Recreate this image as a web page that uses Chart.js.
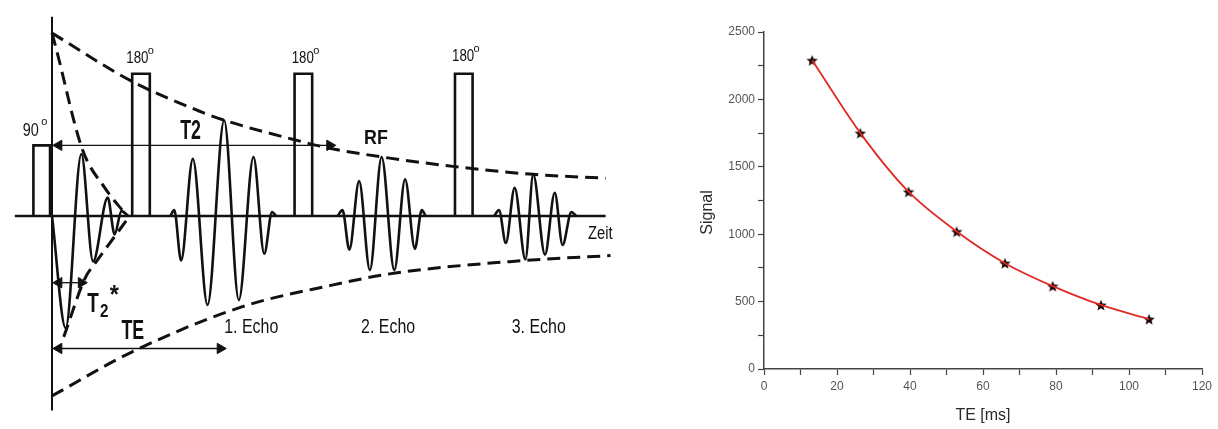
<!DOCTYPE html>
<html>
<head>
<meta charset="utf-8">
<script src="https://cdn.jsdelivr.net/npm/chart.js@4.4.1/dist/chart.umd.min.js"></script>
<style>
html, body { margin: 0; padding: 0; background: #fff; }
#wrap { position: relative; width: 1218px; height: 429px; overflow: hidden; }
#seq { position: absolute; left: 0; top: 0; }
#fit { position: absolute; left: 690px; top: 0; }
</style>
</head>
<body>
<div id="wrap">
  <canvas id="seq" width="640" height="429"></canvas>
  <canvas id="fit" width="528" height="429"></canvas>
</div>
<script>
// --- Spin-Echo Sequenz (links): Zeit t, Amplitude a (Nulllinie a = 0) ---
const baseT = [8, 612];
const axisA = [206, -201];
const pulse90T = [27, 27, 45, 45];
const pulse90A = [0, 73, 73, 0];
const pulse180Start = [128, 294, 458];
const pulse180Width = 18;
const pulse180A = 147;

const fidT = [46, 60, 76, 88, 103, 110, 117, 124];
const fidA = [0, -116, 64, -47, 19, -19, 5, 0];
const echo1T = [167, 171, 178, 190, 205, 222, 237, 252, 263, 271, 275];
const echo1A = [0, 6, -46, 59, -92, 99, -87, 61, -39, 4, 0];
const echo2T = [338, 343, 350, 360, 371, 383, 396, 407, 417, 424, 428];
const echo2A = [0, 6, -35, 36, -56, 61, -56, 38, -34, 6, 0];
const echo3T = [498, 503, 510, 519, 530, 538, 550, 560, 568, 577, 582];
const echo3A = [0, 6, -28, 29, -45, 43, -40, 24, -30, 4, 0];

const envUpT = [46, 128, 195, 222, 293, 330, 383, 458, 538, 612];
const envUpA = [189, 139, 109, 99, 79, 70, 61, 51, 43, 39];
const envLoT = [46, 127, 240, 330, 397, 530, 617];
const envLoA = [-186, -141, -94, -72, -59, -46, -41];
const t2sUpT = [46, 50, 77, 100, 121];
const t2sUpA = [189, 174, 69, 29, 2];
const t2sLoT = [58, 80, 90, 103, 124];
const t2sLoA = [-125, -64, -49, -31, -2];

// Pfeile: [von, bis, Höhe]
const arrowT2 = [47, 336, 73];
const arrowT2s = [47, 82, -69];
const arrowTE = [47, 224, -137];

// --- T2-Abklingkurve (rechts) ---
const teMs = [13.2, 26.4, 39.6, 52.8, 66.0, 79.1, 92.3, 105.5];
const signal = [2290, 1750, 1315, 1020, 785, 615, 475, 370];
const xTickLabels = [0, 20, 40, 60, 80, 100, 120];
const yTickLabels = [0, 500, 1000, 1500, 2000, 2500];

const FONT = '"Liberation Sans", Arial, sans-serif';

function pts(ts, as) {
  return ts.map((t, i) => ({ x: t, y: as[i] }));
}

function strich(data, width, dash) {
  return {
    data: data, showLine: true, borderColor: '#111', borderWidth: width,
    borderDash: dash || [], pointRadius: 0, fill: false, clip: false
  };
}

function welle(ts, as) {
  const d = strich(pts(ts, as), 2.6);
  d.cubicInterpolationMode = 'monotone';
  return d;
}

const AH = 6; // Pfeilspitze
const spitzen = [];
const drehung = [];
[arrowT2, arrowT2s, arrowTE].forEach(a => {
  spitzen.push({ x: a[0] + AH, y: a[2] });
  drehung.push(-90);
  spitzen.push({ x: a[1] - AH, y: a[2] });
  drehung.push(90);
});

const seqSets = [
  strich(pts(baseT, [0, 0]), 2.6),
  strich(pts([46, 46], axisA), 2),
  strich(pts(pulse90T, pulse90A), 2.6),
  strich(pts([44, 44], [0, 73]), 2.6)
];
pulse180Start.forEach(s => {
  seqSets.push(strich(pts([s, s, s + pulse180Width, s + pulse180Width], [0, pulse180A, pulse180A, 0]), 2.6));
});
seqSets.push(welle(fidT, fidA), welle(echo1T, echo1A), welle(echo2T, echo2A), welle(echo3T, echo3A));
[[envUpT, envUpA], [envLoT, envLoA], [t2sUpT, t2sUpA], [t2sLoT, t2sLoA]].forEach(e => {
  const d = strich(pts(e[0], e[1]), 3, [13, 7]);
  d.cubicInterpolationMode = 'monotone';
  seqSets.push(d);
});
[arrowT2, arrowT2s, arrowTE].forEach(a => {
  seqSets.push(strich(pts([a[0] + 2, a[1] - 2], [a[2], a[2]]), 1.3));
});
seqSets.push({
  data: spitzen, showLine: false, pointStyle: 'triangle', pointRadius: AH,
  rotation: drehung, backgroundColor: '#111', borderColor: '#111', borderWidth: 1, clip: false
});

const seqText = {
  id: 'seqText',
  afterDatasetsDraw(chart) {
    const ctx = chart.ctx, xs = chart.scales.x, ys = chart.scales.y;
    function txt(s, x, y, size, bold, sx) {
      ctx.save();
      ctx.translate(xs.getPixelForValue(x), ys.getPixelForValue(y));
      ctx.scale(sx, 1);
      ctx.font = (bold ? 'bold ' : '') + size + 'px ' + FONT;
      ctx.fillStyle = '#111';
      ctx.textBaseline = 'alphabetic';
      ctx.fillText(s, 0, 0);
      ctx.restore();
    }
    txt('90', 16, 83, 18, false, 0.8);
    txt('o', 35, 94, 11, false, 1);
    [[122, 158], [291, 158], [455, 160]].forEach(p => {
      txt('180', p[0], p[1], 17, false, 0.78);
      txt('o', p[0] + 22, p[1] + 9, 11, false, 1);
    });
    txt('T2', 177, 80, 27, true, 0.66);
    txt('RF', 365, 74, 21, true, 0.85);
    txt('T', 82, -99, 27, true, 0.7);
    txt('2', 95, -104, 19, true, 0.8);
    txt('*', 105, -90, 26, true, 0.9);
    txt('TE', 117, -127, 27, true, 0.66);
    txt('1. Echo', 222, -121, 21, false, 0.76);
    txt('2. Echo', 362, -121, 21, false, 0.76);
    txt('3. Echo', 516, -121, 21, false, 0.76);
    txt('Zeit', 594, -24, 18, false, 0.82);
  }
};

new Chart(document.getElementById('seq'), {
  type: 'scatter',
  data: { datasets: seqSets },
  options: {
    responsive: false,
    animation: false,
    layout: { padding: 0 },
    plugins: { legend: { display: false }, tooltip: { enabled: false } },
    scales: {
      x: { type: 'linear', min: 0, max: 640, display: false },
      y: { type: 'linear', min: -213, max: 216, display: false }
    }
  },
  plugins: [seqText]
});

// Sternmarker
function stern(size, color) {
  const c = document.createElement('canvas');
  c.width = c.height = size;
  const g = c.getContext('2d');
  g.fillStyle = color;
  g.beginPath();
  for (let i = 0; i < 10; i++) {
    const r = i % 2 ? size * 0.22 : size * 0.5;
    const w = -Math.PI / 2 + i * Math.PI / 5;
    g.lineTo(size / 2 + r * Math.cos(w), size / 2 + r * Math.sin(w) + size * 0.06);
  }
  g.closePath();
  g.fill();
  return c;
}

const achsenTitel = {
  id: 'achsenTitel',
  afterDraw(chart) {
    const ctx = chart.ctx, a = chart.chartArea;
    ctx.save();
    ctx.fillStyle = '#2a2a2a';
    ctx.font = '16px ' + FONT;
    ctx.textAlign = 'center';
    ctx.textBaseline = 'middle';
    ctx.fillText('TE [ms]', (a.left + a.right) / 2, a.bottom + 47);
    ctx.translate(a.left - 56, (a.top + a.bottom) / 2 + 12);
    ctx.rotate(-Math.PI / 2);
    ctx.fillText('Signal', 0, 0);
    ctx.restore();
  }
};

const messPunkte = pts(teMs, signal);

new Chart(document.getElementById('fit'), {
  type: 'scatter',
  data: {
    datasets: [
      {
        data: messPunkte, showLine: true, borderColor: '#e02a26', borderWidth: 1.8,
        pointRadius: 0, cubicInterpolationMode: 'monotone', fill: false
      },
      {
        data: messPunkte, showLine: false, pointStyle: stern(12, '#1a0808'), pointRadius: 6
      }
    ]
  },
  options: {
    responsive: false,
    animation: false,
    layout: { padding: { top: 32, right: 16, bottom: 0, left: 0 } },
    plugins: { legend: { display: false }, tooltip: { enabled: false } },
    scales: {
      x: {
        type: 'linear', min: 0, max: 120,
        afterFit(s) { s.height = 60; },
        ticks: {
          stepSize: 10, autoSkip: false, maxRotation: 0, padding: 4,
          color: '#555', font: { family: FONT, size: 12 },
          callback: v => xTickLabels.includes(v) ? String(v) : ''
        },
        grid: { drawOnChartArea: false, tickLength: 6, tickColor: '#444', tickWidth: 1.2 },
        border: { color: '#444', width: 1.5 }
      },
      y: {
        type: 'linear', min: 0, max: 2500,
        afterFit(s) { s.width = 74; },
        ticks: {
          stepSize: 250, autoSkip: false, padding: 3,
          color: '#555', font: { family: FONT, size: 12 },
          callback: v => yTickLabels.includes(v) ? String(v) : ''
        },
        grid: { drawOnChartArea: false, tickLength: 6, tickColor: '#444', tickWidth: 1.2 },
        border: { color: '#444', width: 1.5 }
      }
    }
  },
  plugins: [achsenTitel]
});
</script>
</body>
</html>
